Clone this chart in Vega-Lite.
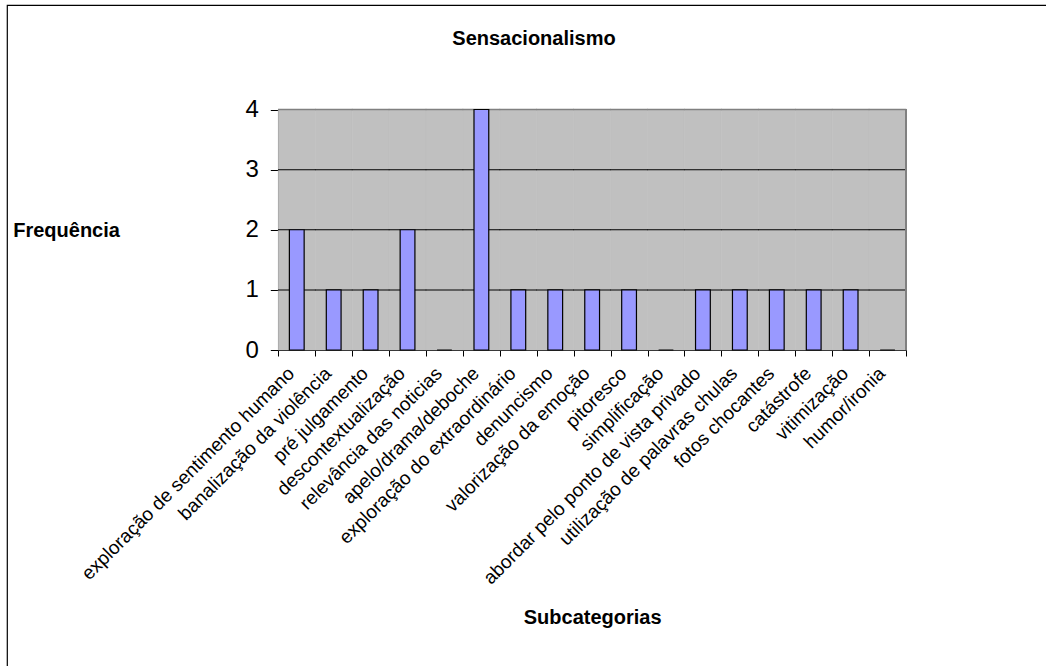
{
  "$schema": "https://vega.github.io/schema/vega-lite/v6.json",
  "width": 1039,
  "height": 661,
  "autosize": {"type": "none"},
  "padding": {"left": 7, "top": 5, "right": 0, "bottom": 0},
  "background": "white",
  "view": {"stroke": "black", "strokeWidth": 1.2, "fill": "white", "strokeDash": [1039, 1700, 661]},
  "title": {
    "text": "Sensacionalismo",
    "font": "Liberation Sans",
    "fontSize": 20,
    "fontWeight": "bold",
    "color": "black",
    "anchor": "middle",
    "frame": "group",
    "baseline": "alphabetic",
    "offset": -60,
    "dx": 7.5
  },
  "data": {
    "values": [
      {"Subcategoria": "exploração de sentimento humano", "Frequencia": 2},
      {"Subcategoria": "banalização da violência", "Frequencia": 1},
      {"Subcategoria": "pré julgamento", "Frequencia": 1},
      {"Subcategoria": "descontextualização", "Frequencia": 2},
      {"Subcategoria": "relevância das noticias", "Frequencia": 0},
      {"Subcategoria": "apelo/drama/deboche", "Frequencia": 4},
      {"Subcategoria": "exploração do extraordinário", "Frequencia": 1},
      {"Subcategoria": "denuncismo", "Frequencia": 1},
      {"Subcategoria": "valorização da emoção", "Frequencia": 1},
      {"Subcategoria": "pitoresco", "Frequencia": 1},
      {"Subcategoria": "simplificação", "Frequencia": 0},
      {"Subcategoria": "abordar pelo ponto de vista privado", "Frequencia": 1},
      {"Subcategoria": "utilização de palavras chulas", "Frequencia": 1},
      {"Subcategoria": "fotos chocantes", "Frequencia": 1},
      {"Subcategoria": "catástrofe", "Frequencia": 1},
      {"Subcategoria": "vitimização", "Frequencia": 1},
      {"Subcategoria": "humor/ironia", "Frequencia": 0}
    ]
  },
  "encoding": {
    "x": {
      "field": "Subcategoria",
      "type": "nominal",
      "sort": null,
      "title": "Subcategorias",
      "scale": {"range": [271.3, 899], "paddingInner": 0, "paddingOuter": 0}
    }
  },
  "layer": [
    {
      "mark": {"type": "bar", "fill": "#C0C0C0", "stroke": "#C0C0C0", "strokeWidth": 0.6, "width": {"band": 1}},
      "encoding": {
        "y": {
          "datum": 4,
          "type": "quantitative",
          "title": "Frequência",
          "scale": {"domain": [0, 4], "range": [345, 104.5], "nice": false, "zero": true},
          "axis": {"values": [0, 1, 2, 3, 4], "format": "d"}
        },
        "y2": {"datum": 0}
      }
    },
    {
      "mark": {"type": "tick", "color": "black", "thickness": 1, "size": 37.5, "opacity": 1},
      "encoding": {"y": {"datum": 1, "type": "quantitative", "title": "Frequência"}}
    },
    {
      "mark": {"type": "tick", "color": "black", "thickness": 1, "size": 37.5, "opacity": 1},
      "encoding": {"y": {"datum": 2, "type": "quantitative", "title": "Frequência"}}
    },
    {
      "mark": {"type": "tick", "color": "black", "thickness": 1, "size": 37.5, "opacity": 1},
      "encoding": {"y": {"datum": 3, "type": "quantitative", "title": "Frequência"}}
    },
    {
      "mark": {"type": "tick", "color": "#808080", "thickness": 1.5, "size": 37.5, "opacity": 1},
      "encoding": {"y": {"datum": 4, "type": "quantitative", "title": "Frequência"}}
    },
    {
      "mark": {"type": "rule", "color": "#808080", "strokeWidth": 1.5},
      "encoding": {
        "x": {"datum": "humor/ironia", "bandPosition": 1},
        "y": {"datum": 4, "type": "quantitative", "title": "Frequência"},
        "y2": {"datum": 0}
      }
    },
    {
      "mark": {"type": "bar", "fill": "#9999FF", "stroke": "black", "strokeWidth": 1.2, "width": {"band": 0.4}},
      "encoding": {
        "y": {"field": "Frequencia", "type": "quantitative", "title": "Frequência"}
      }
    }
  ],
  "config": {
    "axis": {
      "labelFont": "Liberation Sans",
      "titleFont": "Liberation Sans",
      "labelColor": "black",
      "titleColor": "black",
      "domainColor": "black",
      "tickColor": "black",
      "domainWidth": 1,
      "tickWidth": 1,
      "grid": false,
      "titleFontSize": 20,
      "titleFontWeight": "bold"
    },
    "axisY": {
      "offset": -271.3,
      "tickSize": 8,
      "labelFontSize": 24,
      "labelPadding": 12,
      "titleAngle": 0,
      "titleAlign": "left",
      "titleBaseline": "alphabetic",
      "titleX": -265.6,
      "titleY": 231
    },
    "axisX": {
      "offset": -316,
      "tickBand": "extent",
      "tickSize": 6,
      "labelAngle": -45,
      "labelFontSize": 19,
      "labelBaseline": "middle",
      "labelAlign": "right",
      "labelPadding": 14,
      "labelOffset": -6,
      "labelLimit": 500,
      "labelOverlap": false,
      "titleBaseline": "alphabetic",
      "titleY": 273
    }
  }
}
